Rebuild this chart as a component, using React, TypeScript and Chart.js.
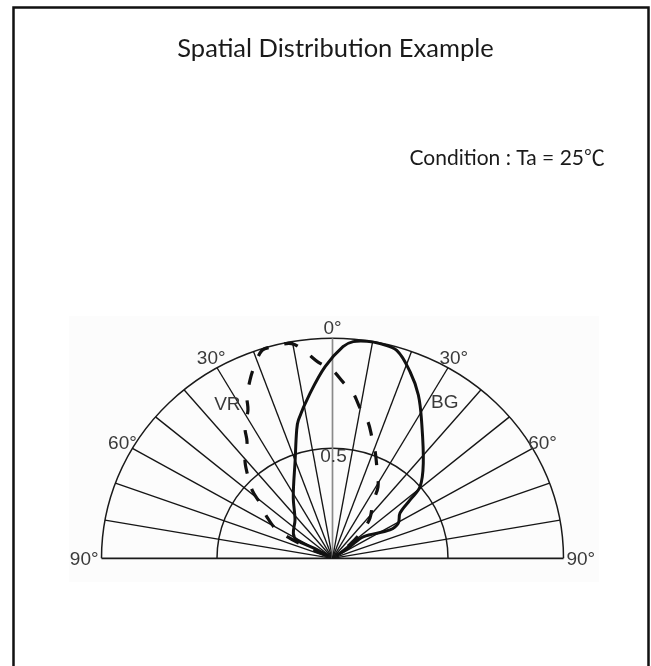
import React, { useEffect, useRef } from "react";
import { Chart, registerables } from "chart.js";

Chart.register(...registerables);

// Angles in degrees from the 0° axis (negative = left), radii relative (1 = outer ring)
const BG_ANGLE = [-58, -60, -61.8, -56.2, -43, -31.3, -19.9, -14.9, -13.2, -7.4, -2.1, 2.7, 5.2, 8.6, 11.9, 16.4, 21.6, 26.6, 32.2, 42.3, 49.4, 51.7, 54.9, 60.8, 62.6, 53.6, 55, 55];
const BG_R = [0.02, 0.09, 0.176, 0.204, 0.238, 0.327, 0.475, 0.603, 0.646, 0.756, 0.872, 0.963, 0.989, 0.998, 0.997, 0.985, 0.912, 0.83, 0.725, 0.584, 0.499, 0.427, 0.357, 0.326, 0.28, 0.165, 0.092, 0.02];

const VR_ANGLE = [-65, -65, -61.7, -56.5, -51.4, -48.3, -43.6, -40.3, -35, -32.6, -28.5, -26.8, -23.8, -21.3, -17.9, -15.3, -10.3, -7.2, -4.0, -0.1, 3.2, 6.8, 9.9, 13.9, 17.4, 20.5, 25.7, 31.3, 34.4, 41.5, 45.7, 50, 50];
const VR_R = [0.03, 0.15, 0.273, 0.34, 0.402, 0.466, 0.536, 0.586, 0.645, 0.703, 0.767, 0.821, 0.885, 0.934, 0.993, 0.996, 0.992, 0.947, 0.894, 0.856, 0.803, 0.756, 0.693, 0.639, 0.573, 0.525, 0.445, 0.379, 0.31, 0.245, 0.185, 0.1, 0.03];

const SPOKE_ANGLES = [-80, -70, -60, -50, -40, -30, -20, -10, 0, 10, 20, 30, 40, 50, 60, 70, 80];
const RING_RADII = [0.5, 1];
const ANGLE_TICKS = [-90, -60, -30, 0, 30, 60, 90];
const ANGLE_TICK_LABELS = ["90°", "60°", "30°", "0°", "30°", "60°", "90°"];
const RING_LABEL = "0.5";
const SERIES_LABELS = ["BG", "VR"];
const TITLE = "Spatial Distribution Example";
const CONDITION = "Condition : Ta = 25℃";

const rad = (d: number) => (d * Math.PI) / 180;
const toXY = (angles: number[], radii: number[]) =>
  angles.map((a, i) => ({ x: radii[i] * Math.sin(rad(a)), y: radii[i] * Math.cos(rad(a)) }));

const polarPlugin = {
  id: "polarGrid",
  beforeDraw(chart: any) {
    const ctx = chart.ctx;
    ctx.save();
    ctx.fillStyle = "#ffffff";
    ctx.fillRect(0, 0, chart.width, chart.height);
    // faint photo background
    ctx.fillStyle = "#fcfcfc";
    ctx.fillRect(69, 316, 530, 266);
    // frame
    ctx.strokeStyle = "#111";
    ctx.lineWidth = 2.5;
    ctx.beginPath();
    ctx.moveTo(13.5, 700);
    ctx.lineTo(13.5, 7.5);
    ctx.lineTo(648.5, 7.5);
    ctx.lineTo(648.5, 700);
    ctx.stroke();
    // title & condition
    ctx.fillStyle = "#1a1a1a";
    ctx.textBaseline = "alphabetic";
    ctx.textAlign = "center";
    ctx.font = "25.5px Lato";
    ctx.fillText(TITLE, 335.5, 57);
    ctx.textAlign = "right";
    ctx.font = "21px Lato, 'Noto Sans CJK JP'";
    ctx.fillText(CONDITION, 605, 165);
    ctx.restore();
  },
  beforeDatasetsDraw(chart: any) {
    const { ctx, scales } = chart;
    const xs = scales.x, ys = scales.y;
    const cx = xs.getPixelForValue(0);
    const cy = ys.getPixelForValue(0);
    const rx = xs.getPixelForValue(1) - cx;
    const ry = cy - ys.getPixelForValue(1);
    const pt = (a: number, r: number) => [cx + rx * r * Math.sin(rad(a)), cy - ry * r * Math.cos(rad(a))];
    ctx.save();
    // rings
    ctx.strokeStyle = "#1a1a1a";
    ctx.lineWidth = 1.5;
    RING_RADII.forEach((r) => {
      ctx.beginPath();
      ctx.ellipse(cx, cy, rx * r, ry * r, 0, Math.PI, 2 * Math.PI);
      ctx.stroke();
    });
    // baseline
    ctx.beginPath();
    ctx.moveTo(cx - rx, cy);
    ctx.lineTo(cx + rx, cy);
    ctx.lineWidth = 1.7;
    ctx.stroke();
    // spokes
    SPOKE_ANGLES.forEach((a) => {
      const [px, py] = pt(a, 1);
      ctx.beginPath();
      ctx.moveTo(cx, cy);
      ctx.lineTo(px, py);
      if (a === 0) {
        ctx.strokeStyle = "#8a8a8a";
        ctx.lineWidth = 1.7;
      } else {
        ctx.strokeStyle = "#151515";
        ctx.lineWidth = 1.35;
      }
      ctx.stroke();
    });
    // labels
    ctx.fillStyle = "#3a3a3a";
    ctx.font = "19px 'Liberation Sans', Arial, sans-serif";
    ctx.textAlign = "center";
    ctx.textBaseline = "middle";
    ANGLE_TICKS.forEach((a, i) => {
      const r = Math.abs(a) === 90 ? 1.075 : 1.05;
      const [px, py] = pt(a, r);
      ctx.fillText(ANGLE_TICK_LABELS[i], px, py + 1);
    });
    const [lx, ly] = pt(0, 0.465);
    ctx.fillText(RING_LABEL, lx + 1, ly + 1);
    const [bx, by] = pt(34.3, 0.863);
    ctx.fillText(SERIES_LABELS[0], bx, by + 1);
    const [vx, vy] = pt(-32.9, 0.838);
    ctx.fillText(SERIES_LABELS[1], vx, vy + 1);
    ctx.restore();
  },
};

export default function App() {
  const ref = useRef<HTMLCanvasElement>(null);
  useEffect(() => {
    if (!ref.current) return;
    const chart = new Chart(ref.current, {
      type: "scatter",
      data: {
        datasets: [
          {
            label: SERIES_LABELS[0],
            data: toXY(BG_ANGLE, BG_R),
            showLine: true,
            borderColor: "#111",
            borderWidth: 3,
            pointRadius: 0,
            tension: 0.35,
            fill: false,
            clip: false as any,
          },
          {
            label: SERIES_LABELS[1],
            data: toXY(VR_ANGLE, VR_R),
            showLine: true,
            borderColor: "#111",
            borderWidth: 3.2,
            borderDash: [14, 16],
            pointRadius: 0,
            tension: 0.35,
            fill: false,
            clip: false as any,
          },
        ],
      },
      options: {
        animation: false,
        responsive: false,
        devicePixelRatio: 1,
        layout: { padding: { left: 101.5, right: 87.5, top: 338.3, bottom: 107.7 } },
        scales: {
          x: { type: "linear", min: -1, max: 1, display: false },
          y: { type: "linear", min: 0, max: 1, display: false },
        },
        plugins: { legend: { display: false }, tooltip: { enabled: false }, title: { display: false } },
        events: [],
      },
      plugins: [polarPlugin],
    });
    return () => chart.destroy();
  }, []);
  return (
    <div style={{ position: "fixed", left: 0, top: 0, width: 651, height: 666, background: "#fff" }}>
      <canvas ref={ref} width={651} height={666} style={{ display: "block" }} />
    </div>
  );
}
